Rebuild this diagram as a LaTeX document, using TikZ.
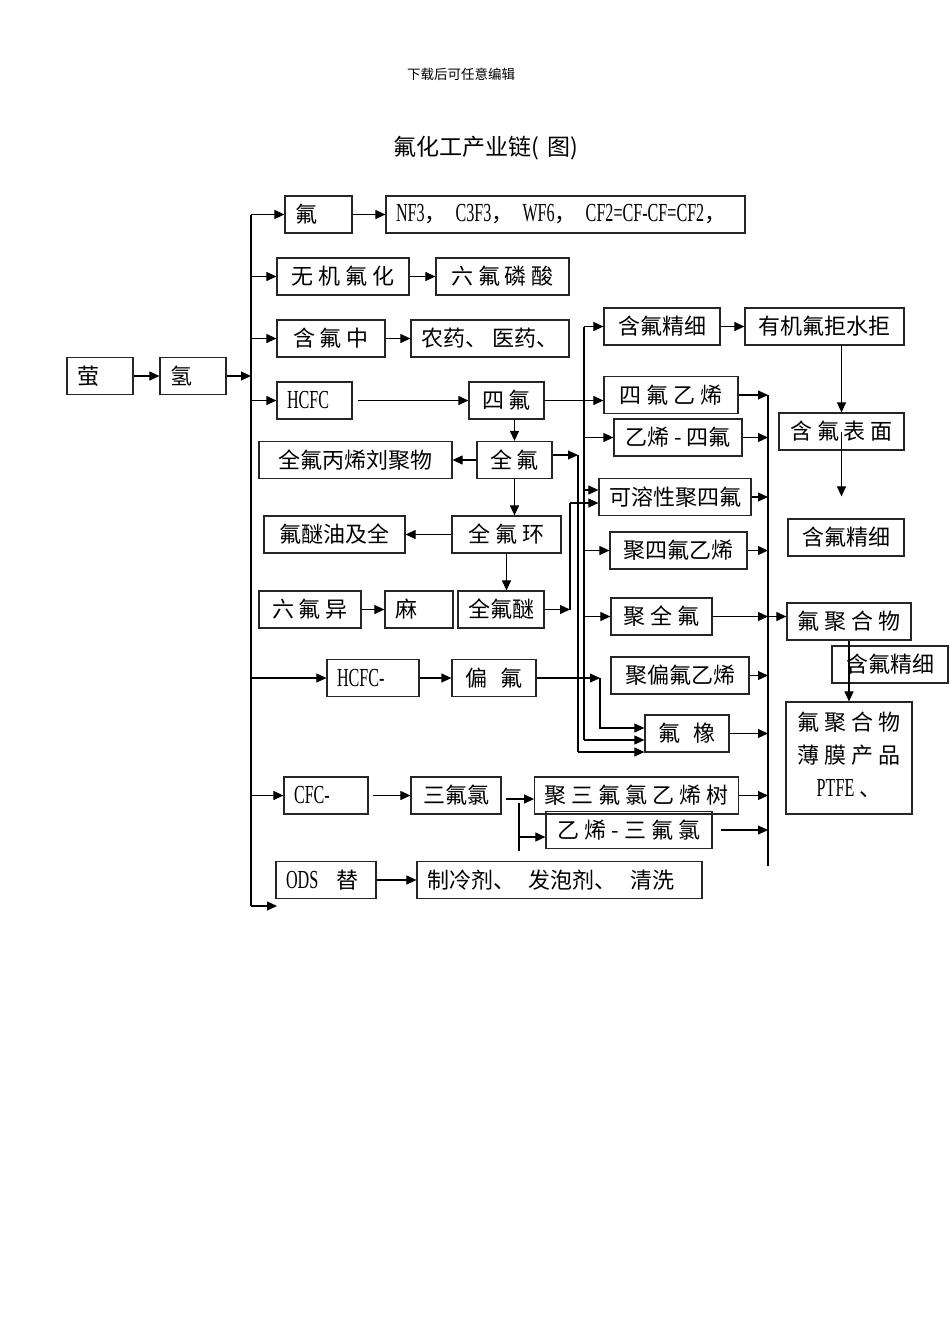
\documentclass[tikz,border=0pt]{standalone}
\usepackage{fontspec}
\setmainfont{Noto Sans CJK SC}
\newfontfamily\lat[FakeStretch=0.62]{Liberation Serif}
\newcommand\en[1]{{\lat\fontsize{26}{28}\selectfont #1}}
\usetikzlibrary{arrows.meta}

\tikzset{
  box/.style={draw=black!85, line width=1.2pt, minimum height=37pt, inner xsep=10pt, inner ysep=2pt, font=\fontsize{22}{26}\selectfont},
  wd/.style={minimum width=#1pt},
  lw/.style={text width=#1pt, align=left},
  arr/.style={-{Triangle[length=10pt,width=9pt]}, line width=1.1pt},
  ln/.style={line width=1.1pt}
}

\begin{document}
\begin{tikzpicture}[x=1pt,y=-1pt]
	\useasboundingbox (0,0) rectangle (950,1344);

	\node[font=\fontsize{13.5}{14}\selectfont] (hdr) at (461,74) {下载后可任意编辑};
	\node[font=\fontsize{23}{23}\selectfont] (title) at (486,148) {氟化工产业链(\hspace{9pt}图)};

	\node[box, lw=46] (ying) at (100,376) {萤};
	\node[box, lw=46] (qing) at (193,376) {氢};

	\node[box, lw=47] (fu) at (318.5,214.5) {氟};
	\node[box, lw=339] (nf3) at (565.5,214.5) {\mbox{\en{NF3}，\hspace{9pt}\en{C3F3}，\hspace{9pt}\en{WF6}，\hspace{9pt}\en{CF2=CF-CF=CF2}，}};
	\node[box, wd=132] (wuji) at (343,276.5) {无 机 氟 化};
	\node[box, wd=133] (liufulin) at (502.5,276.5) {六 氟 磷 酸};
	\node[box, wd=108] (hanfuzhong) at (331,338.5) {含 氟 中};
	\node[box, wd=158] (nongyao) at (490,338.5) {农药、 医药、};
	\node[box, wd=116] (jingxi1) at (662,326.5) {含氟精细};
	\node[box, wd=159] (jushui) at (824.5,326.5) {有机氟拒水拒};

	\node[box, lw=55] (hcfc) at (314.5,400.5) {\en{HCFC}};
	\node[box, wd=75] (sifu) at (506.5,400.5) {四 氟};
	\node[box, wd=134] (tfe) at (671,395) {四 氟 乙 烯};
	\node[box, wd=128] (etfe) at (678,437.5) {乙烯 - 四氟};
	\node[box, wd=125] (biaomian) at (841.5,431.5) {含 氟 表 面};
	\node[box, wd=193] (hfpo) at (355.5,460) {全氟丙烯刘聚物};
	\node[box, wd=75] (quanfu) at (514.5,460) {全 氟};
	\node[box, wd=142] (kerong) at (675,497) {可溶性聚四氟};
	\node[box, wd=116] (jingxi2) at (846,537.5) {含氟精细};
	\node[box, wd=141] (fumiyou) at (334.5,534.5) {氟醚油及全};
	\node[box, wd=109] (quanfuhuan) at (506.5,534.5) {全 氟 环};
	\node[box, wd=137] (ptfe) at (678.5,550.5) {聚四氟乙烯};
	\node[box, wd=102] (liufuyi) at (310,609.5) {六 氟 异};
	\node[box, lw=48] (ma) at (419,609.5) {麻};
	\node[box, wd=86] (quanfumi) at (501,609.5) {全氟醚};
	\node[box, wd=101] (juquanfu) at (661.5,616.5) {聚 全 氟};
	\node[box, wd=124] (fujuhe) at (849,621.5) {氟 聚 合 物};
	\node[box, wd=116] (jingxi3) at (890,664.5) {含氟精细};
	\node[box, lw=72] (hcfcb) at (373,678) {\en{HCFC-}};
	\node[box, wd=84] (pianfu) at (494,678) {偏\hspace{14pt}氟};
	\node[box, wd=138] (pvdf) at (680,675.5) {聚偏氟乙烯};
	\node[box, wd=126, minimum height=112pt, align=center, font=\fontsize{22}{33}\selectfont] (film) at (849,758) {氟 聚 合 物\\薄 膜 产 品\\\en{PTFE} 、\\[-25pt]};
	\node[box, wd=84] (fuxiang) at (687,733.5) {氟\hspace{14pt}橡};
	\node[box, lw=64] (cfc) at (326,795.5) {\en{CFC-}};
	\node[box, wd=90] (sanfulv) at (456,795.5) {三氟氯};
	\node[box, wd=201] (pctfe) at (636.5,795.5) {聚 三 氟 氯 乙 烯 树};
	\node[box, wd=166] (ectfe) at (629,830) {乙 烯 - 三 氟 氯};
	\node[box, lw=80] (ods) at (326,880) {\en{ODS}\hspace{18pt}替};
	\node[box, lw=265] (zhileng) at (559.5,880) {制冷剂、\hspace{14pt}发泡剂、\hspace{14pt}清洗};

	\coordinate (t1) at (251,214.5);
	\coordinate (t2) at (251,906);
	\coordinate (tend) at (277,906);
	\coordinate (r1) at (768,395);
	\coordinate (r2) at (768,866);
	\coordinate (a1) at (584,326.5);
	\coordinate (a2) at (584,740);
	\coordinate (b1) at (578,455);
	\coordinate (b2) at (578,752);
	\coordinate (c1) at (570,503);
	\coordinate (d1) at (600,678);
	\coordinate (e1) at (519,799);
	\coordinate (e2) at (519,851);
	\coordinate (e3) at (519,837);

	\draw[ln] (t1) -- (t2);
	\draw[arr] (qing) -- (qing -| t1);
	\foreach \n in {fu,wuji,hanfuzhong,hcfc,hcfcb,cfc}
		\draw[arr] (\n -| t1) -- (\n);
	\draw[arr] (t2) -- (tend);

	\path[arr]	(ying)		edge (qing)
				(fu)		edge (nf3)
				(wuji)		edge (liufulin)
				(hanfuzhong)	edge (nongyao)
				(jingxi1)	edge (jushui)
				(liufuyi)	edge (ma)
				(quanfu)	edge (hfpo)
				(quanfuhuan)	edge (fumiyou)
				(hcfcb)		edge (pianfu)
				(ods)		edge (zhileng);

	\draw[arr, shorten <=5pt] (hcfc) -- (sifu);
	\draw[arr] (sifu) -- (sifu -| tfe.west);
	\draw[arr] (sifu.south -| quanfu) -- (quanfu.north);
	\draw[arr] (quanfu.south) -- (quanfu.south |- quanfuhuan.north);
	\draw[arr] (quanfuhuan.south) -- (quanfuhuan.south |- quanfumi.north);

	\draw[arr] (jushui.south -| biaomian) -- (biaomian.north);
	\draw[arr, shorten >=22pt] (biaomian.center) -- (biaomian |- jingxi2.north);
	\draw[arr] (fujuhe) -- (film);

	\draw[ln] (r1) -- (r2);
	\foreach \n in {tfe,etfe,kerong,ptfe,pvdf,fuxiang,pctfe}
		\draw[arr] (\n) -- (\n -| r1);
	\draw[arr, shorten <=8pt] (ectfe) -- (ectfe -| r1);
	\draw[arr] (juquanfu) -- (juquanfu -| r1);
	\draw[arr] (juquanfu -| r1) -- (juquanfu -| fujuhe.west);

	\draw[ln] (a1) -- (a2);
	\draw[arr] (a1) -- (jingxi1);
	\draw[arr] (etfe -| a1) -- (etfe);
	\draw[arr] ([yshift=7pt]kerong.west -| a1) -- ([yshift=7pt]kerong.west);
	\draw[arr] (ptfe -| a1) -- (ptfe);
	\draw[arr] (juquanfu -| a1) -- (juquanfu);
	\draw[arr] (a2) -- (a2 -| fuxiang.west);

	\draw[arr] ([yshift=5pt]quanfu.east) -- (b1);
	\draw[ln] (b1) -- (b2);
	\draw[arr] (b2) -- (b2 -| fuxiang.west);

	\draw[arr] (quanfumi) -- (quanfumi -| c1);
	\draw[ln] (quanfumi -| c1) -- (c1);
	\draw[arr] (c1) -- (c1 -| kerong.west);

	\draw[arr] (pianfu) -- (d1);
	\draw[arr] (d1) |- ([yshift=5.5pt]fuxiang.west);

	\draw[arr, shorten <=4pt] (cfc) -- (sanfulv);
	\draw[arr, shorten <=4pt] (sanfulv.east |- e1) -- (e1 -| pctfe.west);
	\draw[ln] ([yshift=-4pt]e1) -- (e2);
	\draw[arr] (e3) -- (e3 -| ectfe.west);
\end{tikzpicture}
\end{document}
